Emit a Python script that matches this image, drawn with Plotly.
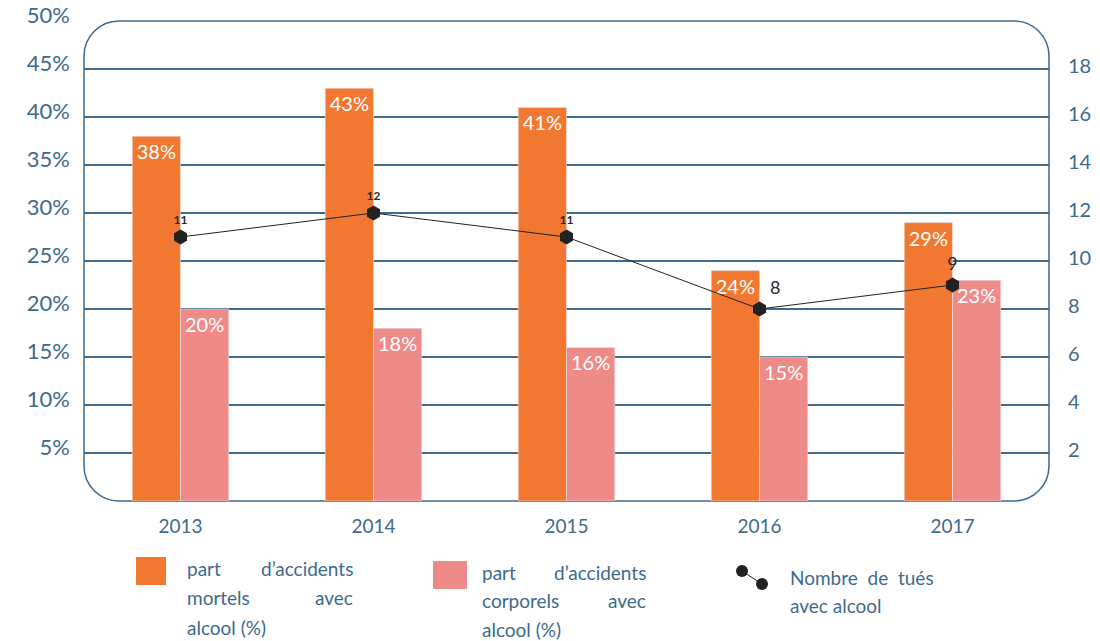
import plotly.graph_objects as go

years = ["2013", "2014", "2015", "2016", "2017"]
part_mortels = [38, 43, 41, 24, 29]
part_corporels = [20, 18, 16, 15, 23]
nombre_tues = [11, 12, 11, 8, 9]
left_ticks = [5, 10, 15, 20, 25, 30, 35, 40, 45, 50]
right_ticks = [2, 4, 6, 8, 10, 12, 14, 16, 18]

name_mortels = "part d’accidents mortels avec alcool (%)"
name_corporels = "part d’accidents corporels avec alcool (%)"
name_tues = "Nombre de tués avec alcool"

ORANGE = "#F27832"
PINK = "#EE8A88"
BLUE = "#3E6A8C"
FONT = "Lato"

fig = go.Figure()
fig.add_trace(go.Bar(
    x=years, y=part_mortels, name=name_mortels, marker_color=ORANGE,
    text=[f"{v}%" for v in part_mortels], textposition="inside",
    insidetextanchor="end", textangle=0, constraintext="none",
    textfont=dict(color="white", size=20, family=FONT),
))
fig.add_trace(go.Bar(
    x=years, y=part_corporels, name=name_corporels, marker_color=PINK,
    text=[f"{v}%" for v in part_corporels], textposition="inside",
    insidetextanchor="end", textangle=0, constraintext="none",
    textfont=dict(color="white", size=20, family=FONT),
))
fig.add_trace(go.Scatter(
    x=years, y=nombre_tues, name=name_tues, yaxis="y2",
    mode="lines+markers+text",
    line=dict(color="#222222", width=1),
    marker=dict(symbol="hexagon", size=15, color="#222222"),
    text=[f"<b>{v}</b>" if v >= 10 else str(v) for v in nombre_tues],
    textposition=["top center" if v >= 9 else "top right" for v in nombre_tues],
    textfont=dict(color="#2a2a2a", family=FONT,
                  size=[12 if v >= 10 else 18 for v in nombre_tues]),
))

W, H = 965, 480
r = 35
rx, ry = r / W, r / H
k = 0.552
path = (
    f"M {rx},0 L {1-rx},0 C {1-rx+k*rx},0 1,{ry-k*ry} 1,{ry} "
    f"L 1,{1-ry} C 1,{1-ry+k*ry} {1-rx+k*rx},1 {1-rx},1 "
    f"L {rx},1 C {rx-k*rx},1 0,{1-ry+k*ry} 0,{1-ry} "
    f"L 0,{ry} C 0,{ry-k*ry} {rx-k*rx},0 {rx},0 Z"
)
shapes = [dict(type="path", xref="paper", yref="paper", path=path,
               line=dict(color=BLUE, width=1.5), layer="between")]

# manual legend
def px2paper_x(px):
    return (px - 84) / W

def px2paper_y(py):
    return (501 - py) / H

annotations = []

def add_text(px, py, txt, anchor="left"):
    annotations.append(dict(
        x=px2paper_x(px), y=px2paper_y(py), xref="paper", yref="paper",
        text=txt, showarrow=False, xanchor=anchor, yanchor="middle",
        font=dict(family=FONT, size=19, color=BLUE)))

def justified(words_lines, left, right, y0, step):
    for i, words in enumerate(words_lines):
        y = y0 + i * step
        if len(words) == 2 and i < len(words_lines) - 1:
            add_text(left, y, words[0], "left")
            add_text(right, y, words[1], "right")
        else:
            add_text(left, y, " ".join(words), "left")

def square(x0, y0, x1, y1, color):
    shapes.append(dict(type="rect", xref="paper", yref="paper",
                       x0=px2paper_x(x0), x1=px2paper_x(x1),
                       y0=px2paper_y(y1), y1=px2paper_y(y0),
                       fillcolor=color, line=dict(width=0)))

square(136, 557, 166, 585, ORANGE)
justified([["part", "d’accidents"], ["mortels", "avec"], ["alcool (%)"]], 185, 355, 568, 29.5)
square(433, 561, 467, 589, PINK)
justified([["part", "d’accidents"], ["corporels", "avec"], ["alcool (%)"]], 480, 648, 572, 28.5)

shapes.append(dict(type="line", xref="paper", yref="paper",
                   x0=px2paper_x(742), y0=px2paper_y(571),
                   x1=px2paper_x(762), y1=px2paper_y(584),
                   line=dict(color="#222222", width=1)))
for (cx, cy) in [(742, 571), (762, 584)]:
    shapes.append(dict(type="circle", xref="paper", yref="paper",
                       x0=px2paper_x(cx - 6), x1=px2paper_x(cx + 6),
                       y0=px2paper_y(cy + 6), y1=px2paper_y(cy - 6),
                       fillcolor="#222222", line=dict(width=0)))
add_text(788, 577, "Nombre  de  tués")
add_text(788, 605, "avec alcool")

fig.update_layout(
    width=1100, height=641,
    margin=dict(l=84, r=51, t=21, b=140, autoexpand=False),
    plot_bgcolor="white", paper_bgcolor="white",
    barmode="group", bargap=0.5, bargroupgap=0,
    showlegend=False,
    font=dict(family=FONT, color=BLUE),
    xaxis=dict(showgrid=False, showline=False, ticks="", automargin=False,
               tickfont=dict(size=19, color=BLUE), ticklabelstandoff=12),
    yaxis=dict(range=[0, 50], tickvals=left_ticks,
               ticktext=[f"{v}%" for v in left_ticks], automargin=False,
               showgrid=False, zeroline=False, showline=False, ticks="",
               tickfont=dict(size=22, color=BLUE),
               ticklabelstandoff=13, ticklabelshift=-6),
    yaxis2=dict(range=[0, 20], overlaying="y", side="right", automargin=False,
                tickvals=right_ticks, showgrid=True, gridcolor=BLUE,
                gridwidth=1.5, zeroline=False, showline=False, ticks="",
                tickfont=dict(size=20, color=BLUE), ticklabelstandoff=18,
                ticklabelshift=-3),
    shapes=shapes, annotations=annotations,
)

fig.write_html("out.html", config={"displayModeBar": False},
               post_script="document.body.style.margin='0';document.body.style.padding='0';")
